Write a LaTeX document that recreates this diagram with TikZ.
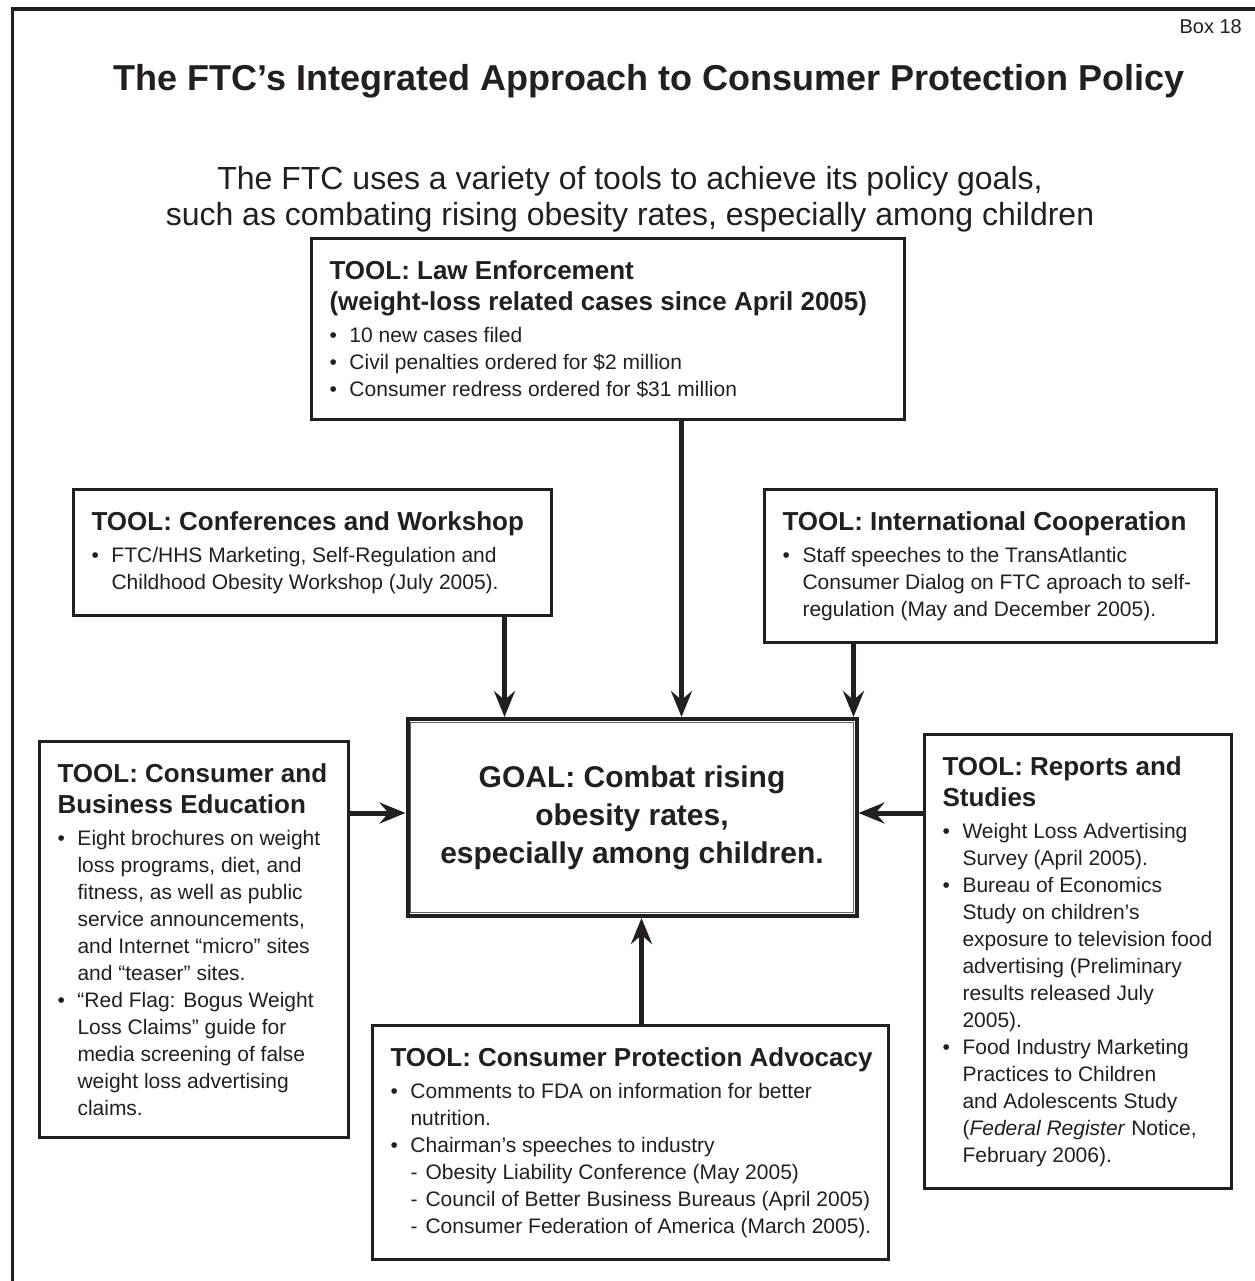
\documentclass[tikz,border=0pt]{standalone}
\usepackage{fontspec}
\setmainfont{Liberation Sans}
\usetikzlibrary{arrows.meta,calc}
\definecolor{ink}{HTML}{231F20}

% bulleted line, continuation line and dashed sub-item inside a tool box
\newcommand\bi[1]{\mbox{\makebox[20pt][l]{\textbullet}#1}}
\newcommand\ci[1]{\mbox{\hspace*{20pt}#1}}
\newcommand\si[1]{\mbox{\hspace*{20pt}\makebox[15pt][l]{-}#1}}
% natural word spacing of the font (align=left would fix it at the node's default size)
\newcommand\natspace{\spaceskip=0pt\xspaceskip=0pt\relax}
\newcommand\tooltitle{\fontsize{26}{31}\selectfont\bfseries\natspace}
\newcommand\toolbody{\fontsize{21}{27}\selectfont\natspace}

\begin{document}
\begin{tikzpicture}[x=1pt,y=-1pt,
  tool/.style={draw=ink, line width=3pt, anchor=north west, inner xsep=18pt,
    inner ysep=22pt, align=left, text=ink},
  goalbox/.style={draw=ink, line width=4pt, minimum width=449pt, minimum height=197pt,
    align=center, text=ink, font=\fontsize{30}{38}\selectfont\bfseries},
  arrow/.style={draw=ink, line width=5pt,
    -{Stealth[length=26pt,width=21pt,inset=9pt]}}]

\fill[white] (0,0) rectangle (1254,1281);
\useasboundingbox (0,0) rectangle (1254,1281);

% page frame (top and left rules)
\draw[ink, line width=3.5pt, line join=miter] (12.5,1281) -- (12.5,9) -- (1260,9);

\node[anchor=north east, inner sep=0pt, text=ink, font=\fontsize{20}{24}\selectfont] (boxno) at (1242,19) {Box 18};

\node[anchor=base, inner sep=0pt, text=ink, font=\fontsize{36}{40}\selectfont\bfseries] (title) at (649,91)
  {The FTC’s Integrated Approach to Consumer Protection Policy};

\node[anchor=north, inner sep=0pt, align=center, text=ink, font=\fontsize{32}{36}\selectfont] (sub) at (630,166.5)
  {The FTC uses a variety of tools to achieve its policy goals,\\
   such as combating rising obesity rates, especially among children};

% central goal
\node[goalbox] (goal) at (632,817.5) {GOAL: Combat rising\\obesity rates,\\especially among children.};
\draw[ink!70, line width=1.3pt] ([xshift=5pt,yshift=5.5pt]goal.south west) rectangle ([xshift=-5pt,yshift=-5.5pt]goal.north east);

% tools
\node[tool, text width=557pt] (law) at (310,237) {%
  {\tooltitle\mbox{TOOL: Law Enforcement}\\\mbox{(weight-loss related cases since April 2005)}\par}%
  \vspace{5pt}%
  {\toolbody\bi{10 new cases filed}\\\bi{Civil penalties ordered for \$2 million}\\\bi{Consumer redress ordered for \$31 million}\par}};

\node[tool, text width=442pt] (conf) at (72,488) {%
  {\tooltitle\mbox{TOOL: Conferences and Workshop}\par}%
  \vspace{5pt}%
  {\toolbody\bi{FTC/HHS Marketing, Self-Regulation and}\\\ci{Childhood Obesity Workshop (July 2005).}\par}};

\node[tool, text width=416pt] (intl) at (763,488) {%
  {\tooltitle\mbox{TOOL: International Cooperation}\par}%
  \vspace{5pt}%
  {\toolbody\bi{Staff speeches to the TransAtlantic}\\\ci{Consumer Dialog on FTC aproach to self-}\\\ci{regulation (May and December 2005).}\par}};

\node[tool, text width=273pt] (edu) at (38,740) {%
  {\tooltitle\mbox{TOOL: Consumer and}\\\mbox{Business Education}\par}%
  \vspace{5pt}%
  {\toolbody\bi{Eight brochures on weight}\\\ci{loss programs, diet, and}\\\ci{fitness, as well as public}\\
   \ci{service announcements,}\\\ci{and Internet “micro” sites}\\\ci{and “teaser” sites.}\\
   \bi{“Red Flag: Bogus Weight}\\\ci{Loss Claims” guide for}\\\ci{media screening of false}\\
   \ci{weight loss advertising}\\\ci{claims.}\par}};

\node[tool, text width=271pt] (rep) at (923,733) {%
  {\tooltitle\mbox{TOOL: Reports and}\\\mbox{Studies}\par}%
  \vspace{5pt}%
  {\toolbody\bi{Weight Loss Advertising}\\\ci{Survey (April 2005).}\\
   \bi{Bureau of Economics}\\\ci{Study on children’s}\\\ci{exposure to television food}\\
   \ci{advertising (Preliminary}\\\ci{results released July}\\\ci{2005).}\\
   \bi{Food Industry Marketing}\\\ci{Practices to Children}\\\ci{and Adolescents Study}\\
   \ci{(\textit{Federal Register} Notice,}\\\ci{February 2006).}\par}};

\node[tool, text width=480pt] (adv) at (371,1024) {%
  {\tooltitle\mbox{TOOL: Consumer Protection Advocacy}\par}%
  \vspace{5pt}%
  {\toolbody\bi{Comments to FDA on information for better}\\\ci{nutrition.}\\
   \bi{Chairman’s speeches to industry}\\
   \si{Obesity Liability Conference (May 2005)}\\
   \si{Council of Better Business Bureaus (April 2005)}\\
   \si{Consumer Federation of America (March 2005).}\par}};

% connectors into the goal
\coordinate (gw) at ([yshift=4.5pt]goal.west);
\coordinate (ge) at ([yshift=4.5pt]goal.east);
\draw[arrow] ([xshift=73.5pt]law.south) -- ([xshift=73.5pt]law.south |- goal.north);
\draw[arrow] ([xshift=192pt]conf.south) -- ([xshift=192pt]conf.south |- goal.north);
\draw[arrow] ([xshift=-137pt]intl.south) -- ([xshift=-137pt]intl.south |- goal.north);
\draw[arrow] (edu.east |- gw) -- (gw);
\draw[arrow] (rep.west |- ge) -- (ge);
\draw[arrow] ([xshift=11pt]adv.north) -- ([xshift=11pt]adv.north |- goal.south);

\end{tikzpicture}
\end{document}
